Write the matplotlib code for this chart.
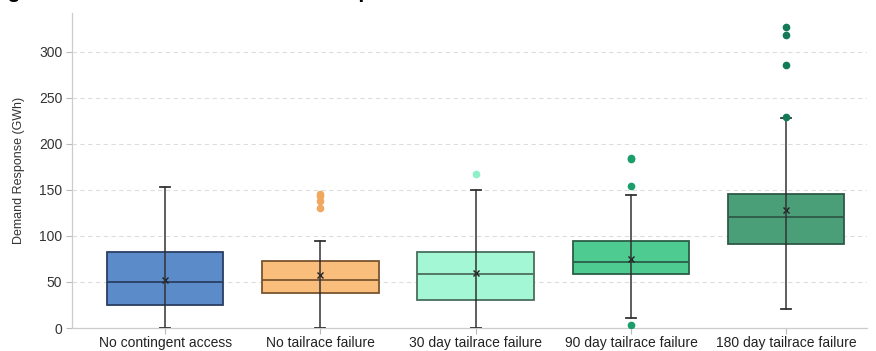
import matplotlib.pyplot as plt
import numpy as np

plt.rcParams['font.family'] = ['Liberation Sans', 'DejaVu Sans']

# scenario summary statistics (GWh)
scenarios = ['No contingent access', 'No tailrace failure', '30 day tailrace failure',
             '90 day tailrace failure', '180 day tailrace failure']
q1 = [25, 38, 30, 59, 91]
median = [50, 52, 59, 72, 121]
q3 = [82, 73, 82, 95, 146]
mean = [52, 58, 60, 75, 128]
whisker_lo = [0, 0, 0, 11, 21]
whisker_hi = [153, 95, 150, 144, 228]
outliers = [
    [],
    [146, 143, 138, 130],
    [167],
    [185, 183, 154, 3],
    [327, 318, 285, 229],
]

face_colors = ['#5b8bc9', '#f9be7c', '#a3f7d4', '#4ecb90', '#4a9e78']
edge_colors = ['#2b3f63', '#7a5530', '#4a6e5e', '#2b5e48', '#2e5a47']
flier_colors = ['#5b8bc9', '#f0a860', '#8ff0c8', '#1c9e6b', '#127a55']

yticks = [0, 50, 100, 150, 200, 250, 300]

fig = plt.figure(figsize=(8.76, 3.51), dpi=100)
ax = fig.add_axes([0.0822, 0.0655, 0.9075, 0.8975])

# heading sits just above the top edge, only its descenders show
fig.text(-0.013, 1 + 1.5 / 351, 'Figure 5: Distribution of Demand Response',
         fontsize=15, fontweight='bold', va='baseline', ha='left', color='black')

stats = []
for i in range(len(scenarios)):
    stats.append({'q1': q1[i], 'med': median[i], 'q3': q3[i], 'mean': mean[i],
                  'whislo': whisker_lo[i], 'whishi': whisker_hi[i],
                  'fliers': np.array(outliers[i], dtype=float), 'label': scenarios[i]})

pos = np.arange(len(scenarios))
for i, s in enumerate(stats):
    ax.bxp([s], positions=[pos[i]], widths=0.75, patch_artist=True, showmeans=True,
           capwidths=0.065,
           boxprops=dict(facecolor=face_colors[i], edgecolor=edge_colors[i], linewidth=1.3),
           medianprops=dict(color=edge_colors[i], linewidth=1.3),
           whiskerprops=dict(color='#333333', linewidth=1.1),
           capprops=dict(color='#333333', linewidth=1.3),
           meanprops=dict(marker='x', markeredgecolor='#222222', markersize=5,
                          markeredgewidth=1.0),
           flierprops=dict(marker='o', markerfacecolor=flier_colors[i],
                           markeredgecolor=flier_colors[i], markersize=4.5),
           zorder=3)

# whisker lines run through the box, drawn over it
for i in range(len(scenarios)):
    ax.plot([pos[i], pos[i]], [q1[i], q3[i]], color='#333333', linewidth=1.1, zorder=4)

ax.set_xlim(-0.6, 4.52)
ax.set_ylim(0, 342)
ax.set_xticks(pos)
ax.set_xticklabels(scenarios, fontsize=10, color='#222222')
ax.set_yticks(yticks)
ax.set_yticklabels([str(v) for v in yticks], fontsize=10, color='#333333')
ax.tick_params(axis='both', length=4, color='#bbbbbb', width=0.8, pad=3)
ax.tick_params(axis='x', pad=2)
ax.set_ylabel('Demand Response (GWh)', fontsize=9, color='#333333', labelpad=10)

ax.yaxis.grid(True, linestyle=(0, (4, 3)), color='#dddddd', linewidth=0.8)
ax.set_axisbelow(True)
for side in ['top', 'right']:
    ax.spines[side].set_visible(False)
for side in ['left', 'bottom']:
    ax.spines[side].set_color('#cccccc')
    ax.spines[side].set_linewidth(0.9)

fig.savefig('out.png', dpi=100)
